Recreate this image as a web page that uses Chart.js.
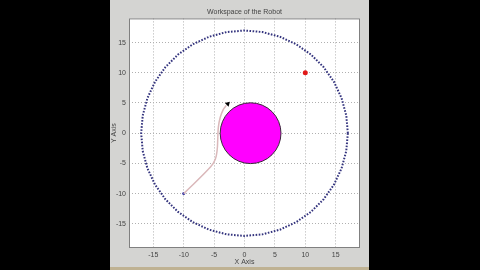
<!DOCTYPE html>
<html>
<head>
<meta charset="utf-8">
<style>
  html, body { margin: 0; padding: 0; background: #000; }
  canvas { display: block; }
</style>
<script src="https://cdn.jsdelivr.net/npm/chart.js@4/dist/chart.umd.min.js"></script>
</head>
<body>
<canvas id="workspace" width="480" height="270"></canvas>
<script>
// Reachable workspace boundary (radius 17 ring)
const ringX = [17, 16.74, 15.97, 14.72, 13.02, 10.93, 8.5, 5.81, 2.95, 0,
  -2.95, -5.81, -8.5, -10.93, -13.02, -14.72, -15.97, -16.74, -17,
  -16.74, -15.97, -14.72, -13.02, -10.93, -8.5, -5.81, -2.95, 0,
  2.95, 5.81, 8.5, 10.93, 13.02, 14.72, 15.97, 16.74, 17];
const ringY = [0, 2.95, 5.81, 8.5, 10.93, 13.02, 14.72, 15.97, 16.74, 17,
  16.74, 15.97, 14.72, 13.02, 10.93, 8.5, 5.81, 2.95, 0,
  -2.95, -5.81, -8.5, -10.93, -13.02, -14.72, -15.97, -16.74, -17,
  -16.74, -15.97, -14.72, -13.02, -10.93, -8.5, -5.81, -2.95, 0];

// Obstacle (centre and radius in axis units)
const obstacleX = [1];
const obstacleY = [0];
const obstacleR = 5;

// Robot path from start to where it stopped
const pathX = [-10, -5.6, -4.8, -4.5, -4.4, -4.3, -4.0, -3.5, -3.0];
const pathY = [-10, -5.6, -4.3, -2.8, -1, 1, 2.6, 3.9, 4.6];

const startPt = [-10, -10];
const goalPt = [10, 10];
const headPt = [-2.75, 4.85];

const xTicks = [-15, -10, -5, 0, 5, 10, 15];
const yTicks = [-15, -10, -5, 0, 5, 10, 15];

const toPts = (xs, ys) => xs.map((x, i) => ({ x: x, y: ys[i] }));

const figureBg = {
  id: 'figureBg',
  beforeDraw(chart) {
    const { ctx, chartArea } = chart;
    ctx.save();
    ctx.fillStyle = '#000';
    ctx.fillRect(0, 0, chart.width, chart.height);
    ctx.fillStyle = '#d4d4d2';
    ctx.fillRect(110, 0, 259, 267);
    ctx.fillStyle = '#bfb293';
    ctx.fillRect(110, 267, 259, 3);
    ctx.fillStyle = '#fff';
    ctx.fillRect(chartArea.left, chartArea.top, chartArea.right - chartArea.left, chartArea.bottom - chartArea.top);
    ctx.restore();
  },
  afterDraw(chart) {
    const { ctx, chartArea } = chart;
    ctx.save();
    ctx.strokeStyle = '#808080';
    ctx.lineWidth = 1;
    ctx.strokeRect(chartArea.left + 0.5, chartArea.top + 0.5, chartArea.right - chartArea.left - 1, chartArea.bottom - chartArea.top - 1);
    ctx.restore();
  }
};

const tickFont = { family: 'Liberation Sans', size: 7 };

new Chart(document.getElementById('workspace').getContext('2d'), {
  type: 'scatter',
  data: {
    datasets: [
      {
        label: 'Workspace',
        data: toPts(ringX, ringY),
        showLine: true,
        borderColor: '#34347e',
        borderWidth: 2,
        borderDash: [1.6, 1.5],
        pointRadius: 0,
        tension: 0
      },
      {
        label: 'Obstacle',
        data: toPts(obstacleX, obstacleY),
        backgroundColor: '#ff00ff',
        borderColor: '#3a2a3a',
        borderWidth: 1,
        pointRadius: ctx => {
          const sx = ctx.chart.scales.x;
          return sx.getPixelForValue(obstacleX[0] + obstacleR) - sx.getPixelForValue(obstacleX[0]);
        }
      },
      {
        label: 'Path',
        data: toPts(pathX, pathY),
        showLine: true,
        borderColor: 'rgb(218,184,186)',
        borderWidth: 1.5,
        pointRadius: 0,
        tension: 0.4
      },
      {
        label: 'Start',
        data: [{ x: startPt[0], y: startPt[1] }],
        backgroundColor: '#3030a0',
        borderWidth: 0,
        pointRadius: 1.5
      },
      {
        label: 'Goal',
        data: [{ x: goalPt[0], y: goalPt[1] }],
        backgroundColor: '#e01818',
        borderWidth: 0,
        pointRadius: 2.5
      },
      {
        label: 'Heading',
        data: [{ x: headPt[0], y: headPt[1] }],
        backgroundColor: '#000',
        borderColor: '#000',
        borderWidth: 0,
        pointStyle: 'triangle',
        rotation: 45,
        pointRadius: 3
      }
    ]
  },
  options: {
    responsive: false,
    animation: false,
    events: [],
    layout: { padding: { left: 110, right: 120, top: 0, bottom: 4 } },
    plugins: {
      legend: { display: false },
      tooltip: { enabled: false },
      title: {
        display: true,
        fullSize: false,
        text: 'Workspace of the Robot',
        color: '#444',
        font: { family: 'Liberation Sans', size: 7, weight: 'normal' },
        padding: { top: 8, bottom: 2 }
      }
    },
    scales: {
      x: {
        min: -19,
        max: 19,
        afterBuildTicks: s => { s.ticks = xTicks.map(v => ({ value: v })); },
        afterFit: s => { s.height = 18; },
        grid: { color: '#b0b0b0', drawTicks: false, lineWidth: 1 },
        border: { display: false, dash: [1, 2] },
        ticks: { color: '#444', font: tickFont, padding: 3, maxRotation: 0 },
        title: { display: true, text: 'X Axis', color: '#444', font: tickFont, padding: 0 }
      },
      y: {
        min: -19,
        max: 19,
        afterBuildTicks: s => { s.ticks = yTicks.map(v => ({ value: v })); },
        afterFit: s => { s.width = 19; },
        grid: { color: '#b0b0b0', drawTicks: false, lineWidth: 1 },
        border: { display: false, dash: [1, 2] },
        ticks: { color: '#444', font: tickFont, padding: 3 },
        title: { display: true, text: 'Y Axis', color: '#444', font: tickFont, padding: 0 }
      }
    }
  },
  plugins: [figureBg]
});
</script>
</body>
</html>
